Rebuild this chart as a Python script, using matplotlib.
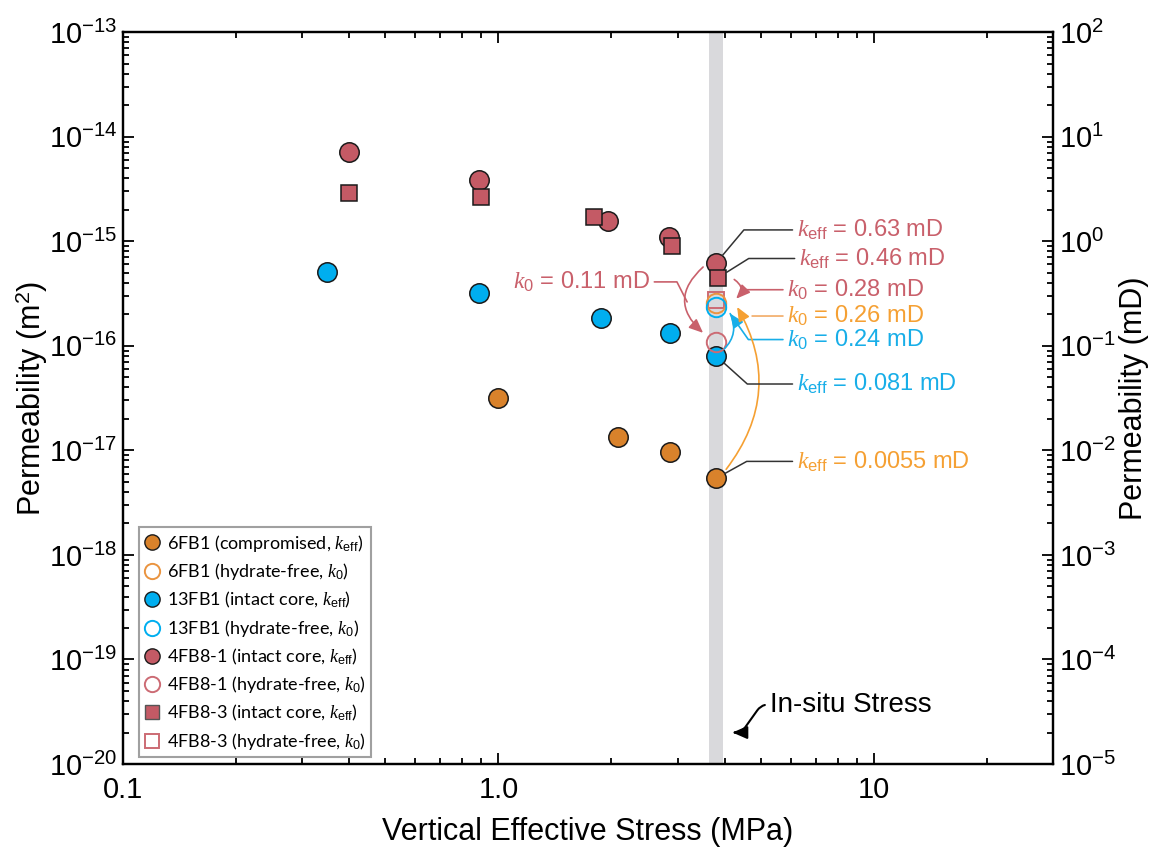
import matplotlib
matplotlib.use("Agg")
import matplotlib.pyplot as plt
import matplotlib.transforms as mtransforms
from matplotlib.lines import Line2D
from matplotlib.ticker import FixedLocator, NullFormatter, LogLocator

plt.rcParams['font.family'] = ['Liberation Sans', 'DejaVu Sans']
plt.rcParams['mathtext.fontset'] = 'custom'
plt.rcParams['mathtext.rm'] = 'Liberation Sans'
plt.rcParams['mathtext.it'] = 'Liberation Serif:italic'
plt.rcParams['mathtext.bf'] = 'Liberation Sans:bold'

# ---- data (stress in MPa, permeability in m^2) ----
stress_6fb1 = [1.0, 2.08, 2.87, 3.8]
perm_6fb1 = [3.2e-17, 1.34e-17, 9.7e-18, 5.4e-18]
stress_6fb1_k0 = [3.8]
perm_6fb1_k0 = [2.57e-16]

stress_13fb1 = [0.35, 0.89, 1.87, 2.87, 3.8]
perm_13fb1 = [5.1e-16, 3.2e-16, 1.85e-16, 1.33e-16, 8.0e-17]
stress_13fb1_k0 = [3.8]
perm_13fb1_k0 = [2.37e-16]

stress_4fb81 = [0.4, 0.89, 1.96, 2.85, 3.8]
perm_4fb81 = [7.1e-15, 3.85e-15, 1.56e-15, 1.1e-15, 6.2e-16]
stress_4fb81_k0 = [3.8]
perm_4fb81_k0 = [1.09e-16]

stress_4fb83 = [0.4, 0.9, 1.8, 2.9, 3.85]
perm_4fb83 = [2.9e-15, 2.65e-15, 1.7e-15, 9.0e-16, 4.5e-16]
stress_4fb83_k0 = [3.8]
perm_4fb83_k0 = [2.76e-16]

insitu_band = (3.64, 3.96)

c_orange = '#d9822b'
c_orange_open = '#ea9440'
c_blue = '#00aeef'
c_red = '#c45a65'
c_red_open = '#cc6b74'
t_red = '#c9606b'
t_orange = '#f5a033'
t_blue = '#18aee8'

fig = plt.figure(figsize=(11.52, 8.47), dpi=100)
ax = fig.add_axes([0.1068, 0.098, 0.8073, 0.864])
ax.set_xscale('log')
ax.set_yscale('log')
ax.set_xlim(0.1, 30)
ax.set_ylim(1e-20, 1e-13)

ax.axvspan(insitu_band[0], insitu_band[1], color='#d9d9dc', lw=0, zorder=0)

ms_c = 14
ms_s = 12
ax.plot(stress_6fb1, perm_6fb1, 'o', ms=ms_c, mfc=c_orange, mec='#1a1a1a', mew=1.1, ls='none', zorder=3)
ax.plot(stress_13fb1, perm_13fb1, 'o', ms=ms_c, mfc=c_blue, mec='#1a1a1a', mew=1.1, ls='none', zorder=3)
ax.plot(stress_4fb81, perm_4fb81, 'o', ms=ms_c, mfc=c_red, mec='#1a1a1a', mew=1.1, ls='none', zorder=3)
ax.plot(stress_4fb83, perm_4fb83, 's', ms=ms_s, mfc=c_red, mec='#1a1a1a', mew=1.1, ls='none', zorder=4)
ax.plot(stress_4fb83_k0, perm_4fb83_k0, 's', ms=ms_s, mfc='none', mec=c_red_open, mew=1.4, ls='none', zorder=3)
ax.plot(stress_6fb1_k0, perm_6fb1_k0, 'o', ms=ms_c, mfc='none', mec=c_orange_open, mew=1.4, ls='none', zorder=3)
ax.plot(stress_13fb1_k0, perm_13fb1_k0, 'o', ms=ms_c, mfc='none', mec=c_blue, mew=1.4, ls='none', zorder=3)
ax.plot(stress_4fb81_k0, perm_4fb81_k0, 'o', ms=ms_c, mfc='none', mec=c_red_open, mew=1.4, ls='none', zorder=3)

# ticks
ax.xaxis.set_major_locator(FixedLocator([0.1, 1.0, 10.0]))
ax.set_xticklabels(['0.1', '1.0', '10'])
ax.xaxis.set_minor_locator(LogLocator(base=10, subs=range(2, 10)))
ax.xaxis.set_minor_formatter(NullFormatter())
ax.yaxis.set_major_locator(LogLocator(base=10, numticks=20))
ax.yaxis.set_minor_locator(LogLocator(base=10, subs=range(2, 10), numticks=20))
ax.yaxis.set_minor_formatter(NullFormatter())
ax.tick_params(which='both', direction='in', top=True, width=1.3, labelsize=21)
ax.tick_params(which='major', length=8)
ax.tick_params(which='minor', length=4.5)
ax.tick_params(axis='x', pad=9)
ax.tick_params(axis='y', pad=4)
for s in ax.spines.values():
    s.set_linewidth(1.6)

ax2 = ax.twinx()
ax2.set_yscale('log')
ax2.set_ylim(1e-5, 1e2)
ax2.yaxis.set_major_locator(LogLocator(base=10, numticks=20))
ax2.yaxis.set_minor_locator(LogLocator(base=10, subs=range(2, 10), numticks=20))
ax2.yaxis.set_minor_formatter(NullFormatter())
ax2.tick_params(which='both', direction='in', width=1.3, labelsize=21, pad=4)
ax2.tick_params(which='major', length=8)
ax2.tick_params(which='minor', length=4.5)
for s in ax2.spines.values():
    s.set_linewidth(1.6)

ax.set_xlabel('Vertical Effective Stress (MPa)', fontsize=22, labelpad=9)
ax.set_ylabel('Permeability (m$^2$)', fontsize=22, labelpad=-1)
ax2.set_ylabel('Permeability (mD)', fontsize=22, labelpad=2)


def off(dx, dy):
    # data point shifted by (dx, dy) points
    return ax.transData + mtransforms.ScaledTranslation(dx / 72, dy / 72, fig.dpi_scale_trans)


keff = r'$k_{\mathrm{eff}}$'
k0 = r'$k_{0}$'
fs_note = 17

# keff leaders (dark gray)
keff_notes = [
    (stress_4fb81[-1], perm_4fb81[-1], keff + ' = 0.63 mD', t_red, 23.8, 50),
    (stress_4fb83[-1], perm_4fb83[-1], keff + ' = 0.46 mD', t_red, 13.7, 32),
    (stress_13fb1[-1], perm_13fb1[-1], keff + ' = 0.081 mD', t_blue, -20.2, -42),
    (stress_6fb1[-1], perm_6fb1[-1], keff + ' = 0.0055 mD', t_orange, 12.2, 29),
]
for x, y, lab, col, dy, ang in keff_notes:
    ax.annotate(lab, xy=(x, y), xytext=(58, dy), textcoords='offset points',
                ha='left', va='center', color=col, fontsize=fs_note, zorder=6,
                arrowprops=dict(arrowstyle='-', color='#333333', lw=1.1, relpos=(0, 0.5),
                                shrinkA=1, shrinkB=7,
                                connectionstyle=f'angle,angleA=0,angleB={ang},rad=0'))

head = '-|>,head_length=0.7,head_width=0.3'

# curved arrows from keff to k0
ax.annotate('', xy=(stress_4fb81_k0[0], perm_4fb81_k0[0]), xycoords=off(-9.4, 6.5),
            xytext=(stress_4fb81[-1], perm_4fb81[-1]), textcoords=off(-9.4, -2.9),
            arrowprops=dict(arrowstyle=head, color=t_red, lw=1.2, shrinkA=0, shrinkB=0,
                            mutation_scale=12, connectionstyle='arc3,rad=0.55'), zorder=5)
ax.annotate('', xy=(stress_4fb83_k0[0], perm_4fb83_k0[0]), xycoords=off(14.4, 0.7),
            xytext=(stress_4fb83[-1], perm_4fb83[-1]), textcoords=off(11.5, -1.4),
            arrowprops=dict(arrowstyle=head, color=t_red, lw=1.2, shrinkA=0, shrinkB=0,
                            mutation_scale=12, connectionstyle='arc3,rad=-0.58'), zorder=5)
ax.annotate('', xy=(stress_6fb1_k0[0], perm_6fb1_k0[0]), xycoords=off(15.1, -2.9),
            xytext=(stress_6fb1[-1], perm_6fb1[-1]), textcoords=off(7.2, 6.5),
            arrowprops=dict(arrowstyle=head, color=t_orange, lw=1.2, shrinkA=0, shrinkB=0,
                            mutation_scale=12, connectionstyle='arc3,rad=0.33'), zorder=5)
ax.annotate('', xy=(stress_13fb1_k0[0], perm_13fb1_k0[0]), xycoords=off(10.1, -5),
            xytext=(stress_13fb1[-1], perm_13fb1[-1]), textcoords=off(5.8, 5),
            arrowprops=dict(arrowstyle='-', color=t_blue, lw=1.2, shrinkA=0, shrinkB=0,
                            connectionstyle='arc3,rad=0.35'), zorder=5)

# k0 labels
ax.annotate(k0 + ' = 0.28 mD', xy=(stress_4fb83_k0[0], perm_4fb83_k0[0]), xycoords=off(18.7, 7.2),
            xytext=(32.4, 0), textcoords='offset points', ha='left', va='center',
            color=t_red, fontsize=fs_note,
            arrowprops=dict(arrowstyle='-', color=t_red, lw=1.2, relpos=(0, 0.5),
                            shrinkA=1, shrinkB=0))
ax.annotate(k0 + ' = 0.26 mD', xy=(stress_6fb1_k0[0], perm_6fb1_k0[0]), xycoords=off(25.9, -9.4),
            xytext=(25.2, 0), textcoords='offset points', ha='left', va='center',
            color=t_orange, fontsize=fs_note,
            arrowprops=dict(arrowstyle='-', color='#f2ab66', lw=1.2, relpos=(0, 0.5),
                            shrinkA=1, shrinkB=0))
ax.annotate(k0 + ' = 0.24 mD', xy=(stress_13fb1_k0[0], perm_13fb1_k0[0]), xycoords=off(10.1, -5),
            xytext=(41, -18.7), textcoords='offset points', ha='left', va='center',
            color=t_blue, fontsize=fs_note,
            arrowprops=dict(arrowstyle=head, color=t_blue, lw=1.2, relpos=(0, 0.5),
                            mutation_scale=12, shrinkA=1, shrinkB=0,
                            connectionstyle='angle,angleA=0,angleB=-55,rad=0'))
ax.annotate(k0 + ' = 0.11 mD', xy=(stress_4fb81_k0[0], perm_4fb81_k0[0]), xycoords=off(-20.9, 28.8),
            xytext=(-26.6, 14.4), textcoords='offset points', ha='right', va='center',
            color=t_red, fontsize=fs_note,
            arrowprops=dict(arrowstyle='-', color=t_red, lw=1.2, relpos=(1, 0.5),
                            shrinkA=1, shrinkB=0,
                            connectionstyle='angle,angleA=0,angleB=117,rad=0'))

# in-situ stress label
ax.annotate('In-situ Stress', xy=(4.2, 2.0e-20), xytext=(5.3, 3.7e-20),
            ha='left', va='center', fontsize=20,
            arrowprops=dict(arrowstyle='-|>,head_length=0.8,head_width=0.35', color='k', lw=1.5,
                            relpos=(0, 0.5), mutation_scale=11, shrinkA=2, shrinkB=0,
                            connectionstyle='arc,angleA=180,armA=9,angleB=0,armB=9,rad=7'))

# legend
handles = [
    Line2D([], [], ls='none', marker='o', ms=11, mfc=c_orange, mec='#1a1a1a', mew=1.0),
    Line2D([], [], ls='none', marker='o', ms=11, mfc='none', mec=c_orange_open, mew=1.4),
    Line2D([], [], ls='none', marker='o', ms=11, mfc=c_blue, mec='#1a1a1a', mew=1.0),
    Line2D([], [], ls='none', marker='o', ms=11, mfc='none', mec=c_blue, mew=1.4),
    Line2D([], [], ls='none', marker='o', ms=11, mfc=c_red, mec='#1a1a1a', mew=1.0),
    Line2D([], [], ls='none', marker='o', ms=11, mfc='none', mec=c_red_open, mew=1.4),
    Line2D([], [], ls='none', marker='s', ms=10, mfc=c_red, mec='#555555', mew=1.0),
    Line2D([], [], ls='none', marker='s', ms=10, mfc='none', mec=c_red_open, mew=1.4),
]
labels = [
    '6FB1 (compromised, ' + keff + ')',
    '6FB1 (hydrate-free, ' + k0 + ')',
    '13FB1 (intact core, ' + keff + ')',
    '13FB1 (hydrate-free, ' + k0 + ')',
    '4FB8-1 (intact core, ' + keff + ')',
    '4FB8-1 (hydrate-free, ' + k0 + ')',
    '4FB8-3 (intact core, ' + keff + ')',
    '4FB8-3 (hydrate-free, ' + k0 + ')',
]
leg = ax.legend(handles, labels, loc='lower left', bbox_to_anchor=(0.017, 0.009),
                borderaxespad=0, frameon=True, fancybox=False,
                prop={'family': 'Lato', 'size': 13},
                handlelength=0.9, handletextpad=0.35, labelspacing=0.42, borderpad=0.3)
leg.get_frame().set_edgecolor('#888888')
leg.get_frame().set_linewidth(1.5)

fig.savefig('out.png', dpi=100)
